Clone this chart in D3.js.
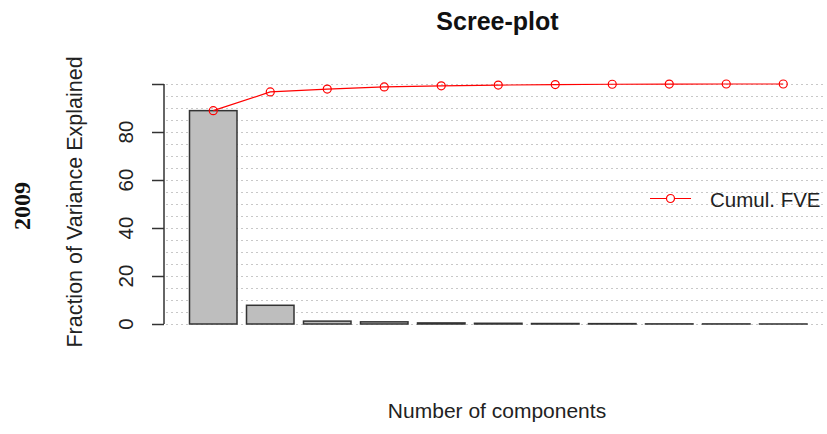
<!DOCTYPE html>
<html>
<head>
<meta charset="utf-8">
<script src="https://cdn.jsdelivr.net/npm/d3@7"></script>
<style>
  html, body { margin: 0; padding: 0; background: #fff; }
  svg { display: block; }
</style>
</head>
<body>
<svg id="chart" width="827" height="434"></svg>
<script>
// Principal components and the fraction of variance each one explains (%)
const components = ["1", "2", "3", "4", "5", "6", "7", "8", "9", "10", "11"];
const fve = [88.9, 7.8, 1.2, 0.9, 0.45, 0.3, 0.2, 0.15, 0.05, 0.04, 0.01];
const yTicks = [0, 20, 40, 60, 80, 100];
const yTickLabels = ["0", "20", "40", "60", "80", ""];
const gridValues = d3.range(0, 101, 5);

// Running total of explained variance
const cumulative = [];
fve.reduce((acc, v, i) => (cumulative[i] = acc + v), 0);

const svg = d3.select("#chart");
const sans = "'Liberation Sans', Arial, sans-serif";
const ink = "#222";

const x = d3.scaleBand()
  .domain(components)
  .range([189.5, 807])
  .paddingInner(1 / 6)
  .paddingOuter(0);

const y = d3.scaleLinear().domain([0, 100]).range([324, 84]);

// Dotted horizontal guides
svg.append("g")
  .selectAll("line")
  .data(gridValues)
  .join("line")
  .attr("x1", 166)
  .attr("x2", 825)
  .attr("y1", d => Math.round(y(d)) + 0.5)
  .attr("y2", d => Math.round(y(d)) + 0.5)
  .attr("stroke", "#c8c8c8")
  .attr("stroke-width", 1)
  .attr("stroke-dasharray", "2,3");

// Bars
svg.append("g")
  .selectAll("rect")
  .data(fve)
  .join("rect")
  .attr("x", (d, i) => x(components[i]))
  .attr("width", x.bandwidth())
  .attr("y", d => y(d))
  .attr("height", d => y(0) - y(d))
  .attr("fill", "#bebebe")
  .attr("stroke", "#333")
  .attr("stroke-width", 1.5);

// Cumulative line with open circles
const cx = (d, i) => x(components[i]) + x.bandwidth() / 2;
svg.append("path")
  .datum(cumulative)
  .attr("fill", "none")
  .attr("stroke", "#ff0000")
  .attr("stroke-width", 1.2)
  .attr("d", d3.line().x(cx).y(d => y(d)));

svg.append("g")
  .selectAll("circle")
  .data(cumulative)
  .join("circle")
  .attr("cx", cx)
  .attr("cy", d => y(d))
  .attr("r", 4)
  .attr("fill", "none")
  .attr("stroke", "#ff0000")
  .attr("stroke-width", 1.2);

// Left axis
const axis = svg.append("g")
  .attr("transform", "translate(164,0)")
  .call(d3.axisLeft(y).tickValues(yTicks).tickSize(12).tickFormat(""));
axis.select(".domain").attr("stroke", "#333").attr("stroke-width", 1.5).attr("d", `M0,${y(0)}V${y(100)}`);
axis.selectAll(".tick line").attr("stroke", "#333").attr("stroke-width", 1.5);

svg.append("g")
  .selectAll("text")
  .data(yTicks)
  .join("text")
  .attr("transform", d => `translate(133,${y(d)}) rotate(-90)`)
  .attr("text-anchor", "middle")
  .attr("font-family", sans)
  .attr("font-size", 20.5)
  .attr("fill", ink)
  .text((d, i) => yTickLabels[i]);

// Titles and axis labels
svg.append("text")
  .attr("x", 497.5).attr("y", 29.5)
  .attr("text-anchor", "middle")
  .attr("font-family", sans)
  .attr("font-weight", "bold")
  .attr("font-size", 25)
  .attr("fill", "#111")
  .text("Scree-plot");

svg.append("text")
  .attr("x", 497).attr("y", 418)
  .attr("text-anchor", "middle")
  .attr("font-family", sans)
  .attr("font-size", 21)
  .attr("fill", ink)
  .text("Number of components");

svg.append("text")
  .attr("transform", "translate(82,202) rotate(-90)")
  .attr("text-anchor", "middle")
  .attr("font-family", sans)
  .attr("font-size", 21.5)
  .attr("fill", ink)
  .text("Fraction of Variance Explained");

svg.append("text")
  .attr("transform", "translate(30,206) rotate(-90)")
  .attr("text-anchor", "middle")
  .attr("font-family", "'Liberation Serif', 'Times New Roman', serif")
  .attr("font-weight", "bold")
  .attr("font-size", 24)
  .attr("fill", "#111")
  .text("2009");

// Legend
const legend = svg.append("g").attr("transform", "translate(650,198.5)");
legend.append("line")
  .attr("x1", 0).attr("x2", 41)
  .attr("stroke", "#ff0000").attr("stroke-width", 1.2);
legend.append("circle")
  .attr("cx", 20.5).attr("r", 4)
  .attr("fill", "#fff").attr("stroke", "#ff0000").attr("stroke-width", 1.2);
legend.append("text")
  .attr("x", 60).attr("y", 8.5)
  .attr("font-family", sans)
  .attr("font-size", 20.5)
  .attr("fill", ink)
  .text("Cumul. FVE");
</script>
</body>
</html>
